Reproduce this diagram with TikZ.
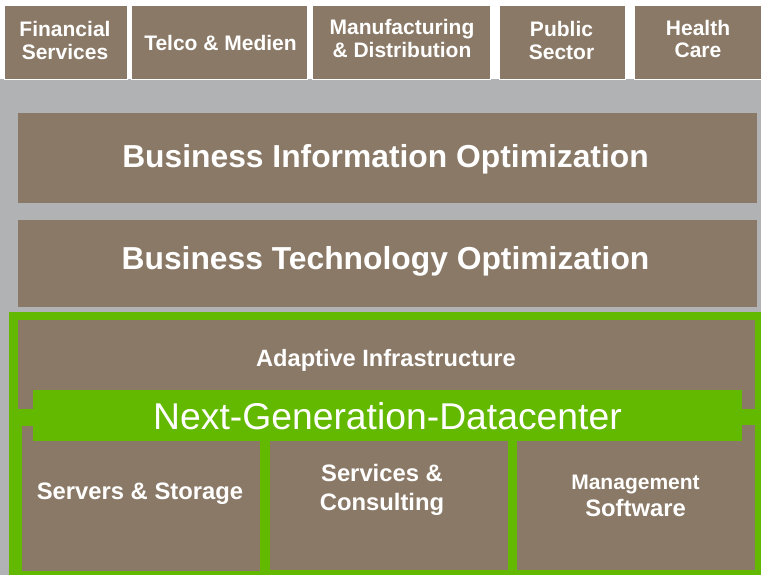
\documentclass[tikz,border=0pt]{standalone}
\usepackage{fontspec}
\setmainfont{Liberation Sans}
\definecolor{brn}{HTML}{8A7967}
\definecolor{gry}{HTML}{B1B2B4}
\definecolor{grn}{HTML}{63B800}
\begin{document}
\begin{tikzpicture}[x=1pt,y=-1pt,
  panel/.style={fill=brn, draw=none, inner sep=0pt, outer sep=0pt, anchor=north west},
  tab/.style={panel, draw=white, line width=1pt},
  greenbox/.style={fill=grn, draw=none, inner sep=0pt, outer sep=0pt, anchor=north west},
  lbl/.style={text=white, inner sep=0pt, outer sep=0pt, anchor=base, align=center},
  toplbl/.style={lbl, font=\bfseries\fontsize{21}{23.3}\selectfont},
  biglbl/.style={lbl, font=\bfseries\fontsize{31.8}{36}\selectfont},
  midlbl/.style={lbl, font=\bfseries\fontsize{23.8}{28.3}\selectfont},
]
\useasboundingbox (0,0) rectangle (761,575);
\fill[white] (0,0) rectangle (761,575);
\node[fill=gry, inner sep=0pt, outer sep=0pt, anchor=north west,
      minimum width=761pt, minimum height=496pt] (bg) at (0,79) {};
% industries
\node[tab, minimum width=123pt, minimum height=74pt] (fin) at (4,6) {};
\node[tab, minimum width=176pt, minimum height=74pt] (tel) at (131,6) {};
\node[tab, minimum width=178pt, minimum height=74pt] (man) at (312,6) {};
\node[tab, minimum width=126pt, minimum height=74pt] (pub) at (499,6) {};
\node[tab, minimum width=128pt, minimum height=74pt] (hea) at (634,6) {};
\node[toplbl] (tfin) at (65,60) {Financial\\Services};
\node[toplbl] (ttel) at (220.5,50.7) {Telco \& Medien};
\node[toplbl] (tman) at (402,57.5) {Manufacturing\\\& Distribution};
\node[toplbl] (tpub) at (561.5,60) {Public\\Sector};
\node[toplbl, font=\bfseries\fontsize{21}{21.5}\selectfont] (thea) at (698,57.3) {Health\\Care};
% optimization layers
\node[panel, minimum width=739pt, minimum height=90pt] (bio) at (18,113) {};
\node[biglbl] (tbio) at (385.5,167.7) {Business Information Optimization};
\node[panel, minimum width=739pt, minimum height=87pt] (bto) at (18,220) {};
\node[biglbl] (tbto) at (385.5,269.3) {Business Technology Optimization};
% datacenter frame
\node[greenbox, minimum width=752pt, minimum height=263pt] (frame) at (9,312) {};
\node[panel, minimum width=737pt, minimum height=89pt] (adapt) at (18,320) {};
\node[lbl, font=\bfseries\fontsize{23.6}{26}\selectfont] (tadapt) at (386,366.7) {Adaptive Infrastructure};
\node[greenbox, minimum width=709pt, minimum height=51pt] (ngdc) at (33,390) {};
\node[lbl, font=\fontsize{37.3}{42}\selectfont] (tngdc) at (387.5,429) {Next-Generation-Datacenter};
\node[panel, minimum width=11pt, minimum height=16pt] (tabl) at (22,426) {};
\node[panel, minimum width=13pt, minimum height=17pt] (tabr) at (742,425) {};
\node[panel, minimum width=238pt, minimum height=130pt] (srv) at (22,441) {};
\node[panel, minimum width=238pt, minimum height=129pt] (svc) at (270,441) {};
\node[panel, minimum width=238pt, minimum height=129pt] (mgm) at (517,441) {};
\node[midlbl] (tsrv) at (140,499) {Servers \& Storage};
\node[midlbl] (tsvc) at (382,510) {Services \&\\Consulting};
\node[lbl, font=\bfseries\fontsize{21}{27.7}\selectfont] (tmgm) at (635.5,516.7)
  {Management\\{\fontsize{23.8}{27.7}\selectfont Software}};
\end{tikzpicture}
\end{document}
